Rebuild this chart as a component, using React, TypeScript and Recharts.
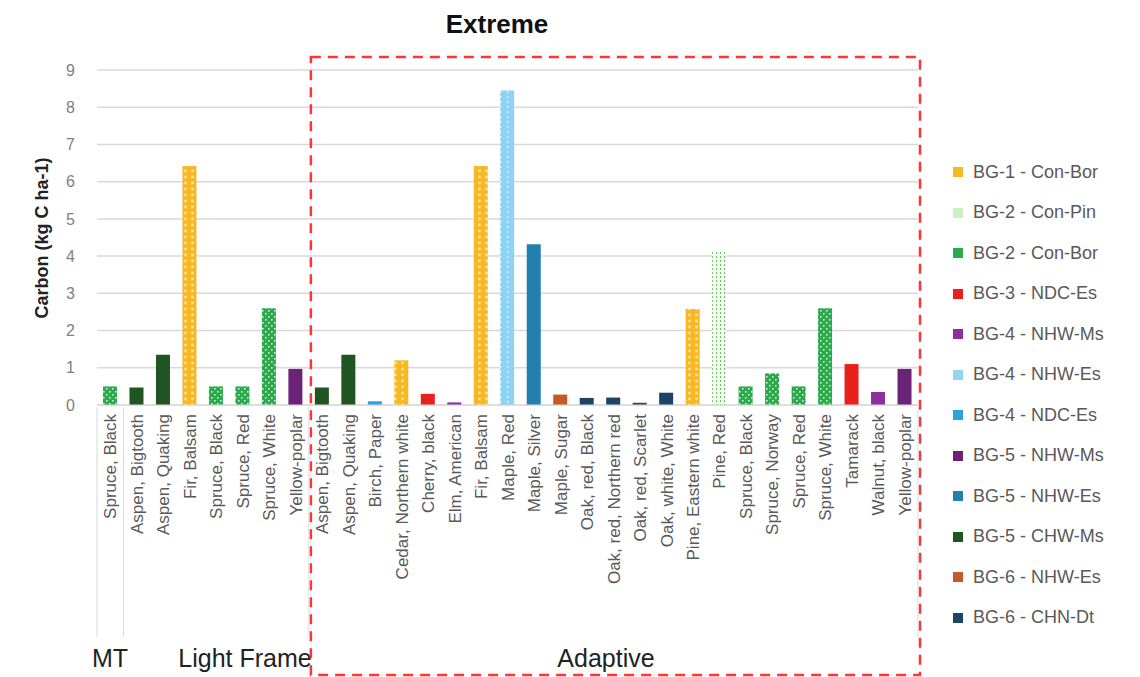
import { BarChart, Bar, XAxis, YAxis, CartesianGrid } from 'recharts'

const CATEGORIES = [
  'Spruce, Black',
  'Aspen, Bigtooth', 'Aspen, Quaking', 'Fir, Balsam', 'Spruce, Black', 'Spruce, Red', 'Spruce, White', 'Yellow-poplar',
  'Aspen, Bigtooth', 'Aspen, Quaking', 'Birch, Paper', 'Cedar, Northern white', 'Cherry, black', 'Elm, American',
  'Fir, Balsam', 'Maple, Red', 'Maple, Silver', 'Maple, Sugar', 'Oak, red, Black', 'Oak, red, Northern red',
  'Oak, red, Scarlet', 'Oak, white, White', 'Pine, Eastern white', 'Pine, Red', 'Spruce, Black', 'Spruce, Norway',
  'Spruce, Red', 'Spruce, White', 'Tamarack', 'Walnut, black', 'Yellow-poplar',
]

const VALUES = [
  0.5,
  0.47, 1.35, 6.42, 0.5, 0.5, 2.6, 0.97,
  0.47, 1.35, 0.1, 1.2, 0.3, 0.07,
  6.42, 8.45, 4.32, 0.28, 0.19, 0.2,
  0.06, 0.33, 2.58, 4.12, 0.5, 0.85,
  0.5, 2.6, 1.1, 0.35, 0.97,
]

const GROUPS = [
  'BG-1 - Con-Bor', 'BG-2 - Con-Pin', 'BG-2 - Con-Bor', 'BG-3 - NDC-Es',
  'BG-4 - NHW-Ms', 'BG-4 - NHW-Es', 'BG-4 - NDC-Es', 'BG-5 - NHW-Ms',
  'BG-5 - NHW-Es', 'BG-5 - CHW-Ms', 'BG-6 - NHW-Es', 'BG-6 - CHN-Dt',
]

// index into GROUPS for each category
const CATEGORY_GROUP = [
  2,
  9, 9, 0, 2, 2, 2, 7,
  9, 9, 6, 0, 3, 4,
  0, 5, 8, 10, 11, 11,
  11, 11, 0, 1, 2, 2,
  2, 2, 3, 4, 7,
]

const SECTIONS = ['MT', 'Light Frame', 'Adaptive']
const SECTION_SIZES = [1, 7, 23]

const Y_TICKS = [0, 1, 2, 3, 4, 5, 6, 7, 8, 9]

const GROUP_COLORS = [
  '#F6B823', '#CDEFC6', '#2AAA4A', '#E8211F',
  '#8E2F9F', '#93D3F3', '#2BA3DB', '#6B2377',
  '#2380AE', '#1F5521', '#C55A28', '#1D4462',
]

const PATTERNS: Record<number, string> = {
  0: 'url(#pYellow)',
  1: 'url(#pPine)',
  2: 'url(#pGreen)',
  5: 'url(#pBlue)',
}

const PLOT_LEFT = 97
const PLOT_RIGHT = 918
const BAND = (PLOT_RIGHT - PLOT_LEFT) / CATEGORIES.length
const SECTION_LABEL_X = [110, 245, 606]

const data = CATEGORIES.map((name, i) => ({
  name,
  [GROUPS[CATEGORY_GROUP[i]]]: VALUES[i],
}))

const sectionStarts = SECTION_SIZES.reduce<number[]>((acc, n, i) => {
  acc.push(i === 0 ? 0 : acc[i - 1] + SECTION_SIZES[i - 1])
  return acc
}, [])

function CategoryTick(props: any) {
  const { x, y, payload, index } = props
  return (
    <g transform={`translate(${x},${y})`}>
      <text
        transform="rotate(-90)"
        x={-7}
        dy="0.36em"
        textAnchor="end"
        fill="#595959"
        fontSize={17}
      >
        {payload.value}
      </text>
      {sectionStarts.includes(index) && (
        <line x1={-BAND / 2} x2={-BAND / 2} y1={0} y2={230} stroke="#d9d9d9" />
      )}
      {index === CATEGORIES.length - 1 && (
        <line x1={BAND / 2} x2={BAND / 2} y1={0} y2={230} stroke="#d9d9d9" />
      )}
    </g>
  )
}

export default function App() {
  const boxLeft = PLOT_LEFT + sectionStarts[2] * BAND + 2
  return (
    <div
      style={{
        position: 'absolute',
        left: 0,
        top: 0,
        width: 1140,
        height: 677,
        background: '#fff',
        fontFamily: '"Liberation Sans", Arial, sans-serif',
      }}
    >
      <BarChart
        width={1140}
        height={677}
        data={data}
        margin={{ top: 70, right: 1140 - PLOT_RIGHT, bottom: 0, left: 40 }}
        barSize={14}
      >
        <defs>
          <pattern id="pYellow" width="7" height="6" patternUnits="userSpaceOnUse">
            <rect width="7" height="6" fill="#F6B823" />
            <circle cx="3.5" cy="3" r="1.4" fill="#FCE3A0" />
          </pattern>
          <pattern id="pGreen" width="6" height="6" patternUnits="userSpaceOnUse">
            <rect width="6" height="6" fill="#2AAA4A" />
            <rect x="1" y="1" width="1.6" height="1.6" fill="#CDEFD2" />
            <rect x="4" y="4" width="1.6" height="1.6" fill="#CDEFD2" />
          </pattern>
          <pattern id="pBlue" width="7" height="5" patternUnits="userSpaceOnUse">
            <rect width="7" height="5" fill="#8ED3F5" />
            <rect x="3" y="1" width="1.2" height="2" fill="#EAF7FD" />
          </pattern>
          <pattern id="pPine" width="4" height="4" patternUnits="userSpaceOnUse">
            <rect width="4" height="4" fill="#F1FAEE" />
            <rect x="0" y="0" width="1" height="2" fill="#6DBE63" />
          </pattern>
        </defs>
        <CartesianGrid vertical={false} stroke="#d9d9d9" strokeWidth={1.5} />
        <XAxis
          dataKey="name"
          height={272}
          interval={0}
          tickLine={false}
          tickSize={0}
          axisLine={{ stroke: '#d9d9d9' }}
          tick={<CategoryTick />}
        />
        <YAxis
          width={57}
          domain={[0, 9]}
          ticks={Y_TICKS}
          tickLine={false}
          axisLine={false}
          tickSize={0}
          tickMargin={22}
          tick={{ fill: '#808080', fontSize: 16 }}
        />
        {GROUPS.map((g, gi) => (
          <Bar
            key={g}
            dataKey={g}
            stackId="s"
            fill={PATTERNS[gi] || GROUP_COLORS[gi]}
            isAnimationActive={false}
          />
        ))}
        <text x={497} y={33} textAnchor="middle" fontSize={26} fontWeight="bold" fill="#111">
          Extreme
        </text>
        <text
          transform="translate(48,238) rotate(-90)"
          textAnchor="middle"
          fontSize={18}
          fontWeight="bold"
          fill="#222"
        >
          Carbon (kg C ha-1)
        </text>
        {SECTIONS.map((s, i) => (
          <text key={s} x={SECTION_LABEL_X[i]} y={667} textAnchor="middle" fontSize={25} fill="#222">
            {s}
          </text>
        ))}
        <rect
          x={boxLeft}
          y={57}
          width={PLOT_RIGHT + 2 - boxLeft}
          height={618}
          fill="none"
          stroke="#FF3535"
          strokeWidth={2.5}
          strokeDasharray="10 7"
        />
      </BarChart>
      <div style={{ position: 'absolute', left: 953, top: 152 }}>
        {GROUPS.map((g, gi) => (
          <div key={g} style={{ display: 'flex', alignItems: 'center', height: 40.5 }}>
            <div
              style={{
                width: 10,
                height: 10,
                background: GROUP_COLORS[gi],
                marginRight: 10,
              }}
            />
            <span style={{ fontSize: 18, color: '#595959', whiteSpace: 'nowrap' }}>{g}</span>
          </div>
        ))}
      </div>
    </div>
  )
}
